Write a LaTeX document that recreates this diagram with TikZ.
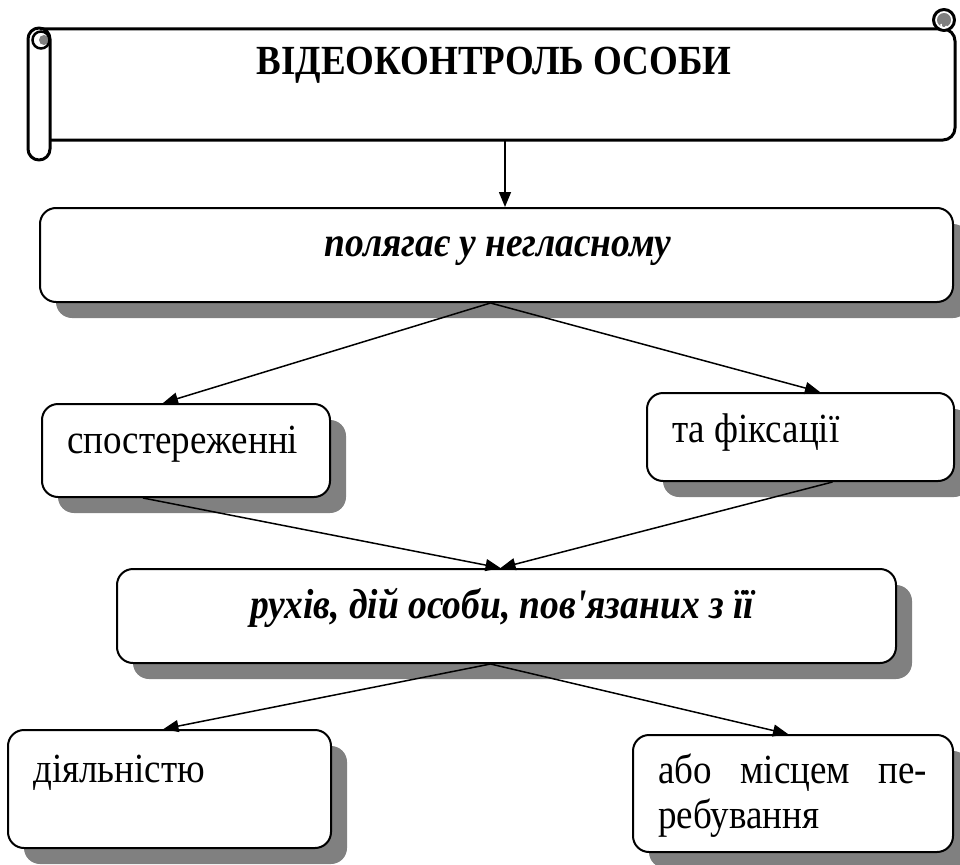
\documentclass[tikz,border=0pt]{standalone}
\usepackage{fontspec}
\setmainfont{Liberation Serif}
\usetikzlibrary{shadows,arrows.meta}
\definecolor{shadowgray}{RGB}{128,128,128}
\newcommand{\vstr}[1]{\scalebox{1}[1.12]{#1}}
\tikzset{
  boxnode/.style={draw=black, line width=2pt, rounded corners=16pt, fill=white, inner sep=0pt,
    drop shadow={shadow xshift=16pt, shadow yshift=-16pt, fill=shadowgray, opacity=1}},
  regtext/.style={font=\fontsize{37}{45}\selectfont, inner sep=0pt, anchor=base west},
  emtext/.style={font=\fontsize{37.5}{45}\selectfont\bfseries\itshape, inner sep=0pt, anchor=base},
  conn/.style={line width=1.5pt, -{Triangle[length=15pt,width=12pt]}},
  scrollline/.style={line width=3pt, line join=round, line cap=round},
}
\begin{document}
\begin{tikzpicture}[x=1pt,y=-1pt]
\useasboundingbox (0,0) rectangle (960,864);
% scroll
\draw[scrollline, fill=white, rounded corners=12pt] (39,29) -- (955,29) -- (955,140) -- (50,140);
\draw[scrollline, fill=white] (28,39) arc[start angle=180, end angle=360, radius=11] -- (50,149) arc[start angle=0, end angle=180, radius=11] -- cycle;
\fill[shadowgray] (44,40) circle (5);
\draw[line width=2.5pt] (41,40) circle (8.5);
\draw[scrollline, fill=white] (944,20) circle (10.5);
\fill[shadowgray] (944,20) circle (7);
\draw[line width=1.5pt, white] (941,24) arc[start angle=200, end angle=20, radius=3];
\coordinate (scrollbot) at (505,140);
\node[font=\fontsize{37}{44}\selectfont\bfseries, inner sep=0pt, anchor=base] (title) at (494,75) {\vstr{ВІДЕОКОНТРОЛЬ ОСОБИ}};
% boxes
\node[boxnode, minimum width=913pt, minimum height=94pt] (b1) at (496.5,255) {};
\node[boxnode, minimum width=288pt, minimum height=93pt] (spost) at (186,450.5) {};
\node[boxnode, minimum width=307pt, minimum height=88pt] (fix) at (800.5,437) {};
\node[boxnode, minimum width=779pt, minimum height=94pt] (rukh) at (506.5,616) {};
\node[boxnode, minimum width=323pt, minimum height=118pt] (diyal) at (169.5,789) {};
\node[boxnode, minimum width=320pt, minimum height=117pt] (abo) at (793,793.5) {};
% texts
\node[emtext] (t1) at (498,256) {\vstr{полягає у негласному}};
\node[regtext] (t2) at (67,453) {\vstr{спостереженні}};
\node[regtext] (t3) at (672,442) {\vstr{та фіксації}};
\node[emtext] (t4) at (502,618) {\vstr{рухів, дій особи, пов\textquotesingle язаних з її}};
\node[regtext] (t5) at (33,782) {\vstr{діяльністю}};
\node[regtext] (t6) at (658,783) {\vstr{\makebox[269pt][s]{або\hfill місцем\hfill пе-}}};
\node[regtext] (t7) at (658,828) {\vstr{ребування}};
% connectors
\draw[conn] (scrollbot) -- (b1.north -| scrollbot);
\draw[conn] ([xshift=-6pt]b1.south) -- ([xshift=-23pt]spost.north);
\draw[conn] ([xshift=-6pt]b1.south) -- ([xshift=19.5pt]fix.north);
\draw[conn] ([xshift=-43pt]spost.south) -- ([xshift=-6pt]rukh.north);
\draw[conn] ([xshift=32pt]fix.south) -- ([xshift=-6pt]rukh.north);
\draw[conn] ([xshift=-16pt]rukh.south) -- ([xshift=-6pt]diyal.north);
\draw[conn] ([xshift=-16pt]rukh.south) -- ([xshift=-5pt]abo.north);
\end{tikzpicture}
\end{document}
